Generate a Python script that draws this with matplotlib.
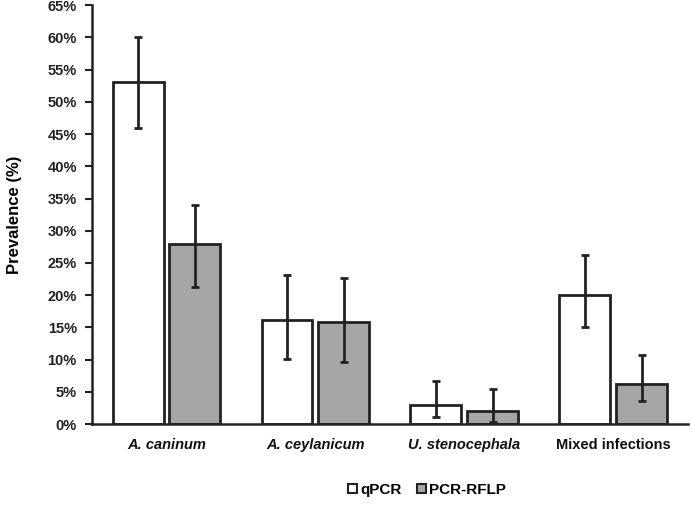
import matplotlib
matplotlib.use('Agg')
import matplotlib.pyplot as plt
import numpy as np
from matplotlib.patches import Patch

plt.rcParams['font.family'] = ['Liberation Sans', 'DejaVu Sans']

# Data (prevalence in %)
categories = ['A. caninum', 'A. ceylanicum', 'U. stenocephala', 'Mixed infections']
qpcr = [53.0, 16.2, 3.0, 20.0]
qpcr_low = [46.0, 10.1, 1.1, 15.0]
qpcr_high = [60.0, 23.1, 6.7, 26.3]
rflp = [28.0, 15.8, 2.0, 6.3]
rflp_low = [21.2, 9.6, 0.4, 3.6]
rflp_high = [34.0, 22.6, 5.4, 10.8]
yticks = list(range(0, 70, 5))

x = np.arange(len(categories))
width = 0.342
offset = 0.191
edge = '#222222'

fig = plt.figure(figsize=(6.92, 5.05), dpi=100)
ax = fig.add_axes([0.133, 0.160, 0.861, 0.830])

qpcr_err = [np.array(qpcr) - np.array(qpcr_low), np.array(qpcr_high) - np.array(qpcr)]
rflp_err = [np.array(rflp) - np.array(rflp_low), np.array(rflp_high) - np.array(rflp)]

ax.bar(x - offset, qpcr, width, color='white', edgecolor=edge, linewidth=2,
       yerr=qpcr_err, error_kw=dict(ecolor=edge, elinewidth=2, capsize=3, capthick=2),
       label='qPCR', zorder=2)
ax.bar(x + offset, rflp, width, color='#a6a6a6', edgecolor=edge, linewidth=2,
       yerr=rflp_err, error_kw=dict(ecolor=edge, elinewidth=2, capsize=3, capthick=2),
       label='PCR-RFLP', zorder=2)

ax.set_xlim(-0.5, len(categories) - 0.5)
ax.set_ylim(0, 65)
ax.set_yticks(yticks)
ax.set_yticklabels([f'{t}%' for t in yticks], fontsize=10.5, fontweight='bold', color='#222222')
ax.set_xticks(x)
ax.set_xticklabels(categories, fontsize=10.5, fontweight='bold', color='#111111')
for lbl in ax.get_xticklabels()[:3]:
    lbl.set_fontstyle('italic')
ax.tick_params(axis='x', length=0, pad=10)
ax.tick_params(axis='y', direction='out', length=5, width=1.5, color=edge, pad=6)

for side in ['top', 'right']:
    ax.spines[side].set_visible(False)
for side in ['left', 'bottom']:
    ax.spines[side].set_linewidth(1.8)
    ax.spines[side].set_color(edge)

ax.set_ylabel('Prevalence (%)', fontsize=12, fontweight='bold', labelpad=18)

legend_elements = [
    Patch(facecolor='white', edgecolor=edge, linewidth=1.5, label='qPCR'),
    Patch(facecolor='#a6a6a6', edgecolor=edge, linewidth=1.5, label='PCR-RFLP'),
]
fig.legend(handles=legend_elements, loc='center', bbox_to_anchor=(0.617, 0.03),
           ncol=2, frameon=False, handlelength=0.6, handleheight=0.6,
           handletextpad=0.2, columnspacing=1.0, prop=dict(size=11, weight='bold'))

plt.savefig('out.png', dpi=100)
